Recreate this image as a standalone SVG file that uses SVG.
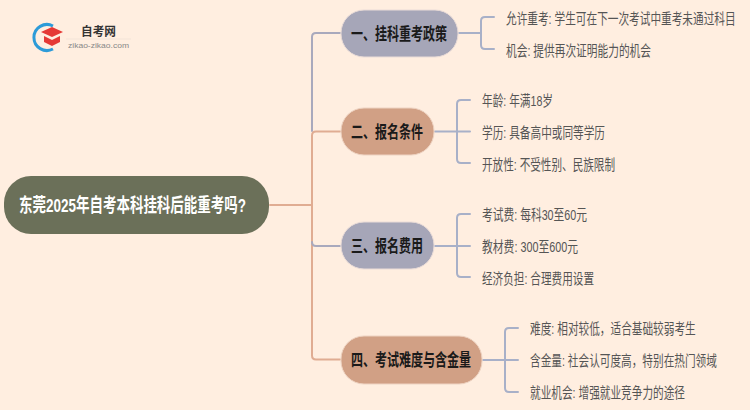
<svg xmlns="http://www.w3.org/2000/svg" width="750" height="410" viewBox="0 0 750 410">
<style>
text{font-family:"Liberation Sans","Noto Sans CJK SC",sans-serif}
.c{fill:none;stroke-width:2;stroke-linecap:round}
.p{stroke:#e0ac92}.b{stroke:#a9a9bd}.lb{stroke:#a8b0c8}
.h{font-size:17px;font-weight:700;fill:#1a1a1a}
.t{font-size:15px;fill:#555}
.n1{fill:#a6a6b8;stroke:#eadcd8;stroke-width:1}
.n2{fill:#d1a085;stroke:#eed3c2;stroke-width:1}
</style>
<rect width="750" height="410" fill="#ffeee0"/>
<g id="logo">
<path d="M53 26A13 13 0 1 0 53 49" fill="none" stroke="#2d9bd8" stroke-width="3"/>
<path d="M41 32L52 27L63 32L52 37Z" fill="#e53935"/>
<path d="M44 36L52 40L60 36V42L52 46L44 42Z" fill="#e53935"/>
<path d="M66 39H131" stroke="#f3e4d8" stroke-width="1"/>
<text x="81" y="36" font-size="12" font-weight="700" fill="#333" textLength="35" lengthAdjust="spacingAndGlyphs">自考网</text>
<text x="68" y="48" font-size="8" fill="#888" textLength="61" lengthAdjust="spacingAndGlyphs">zikao-zikao.com</text>
</g>
<g id="connectors">
<path class="c p" d="M270 205H312"/>
<path class="c b" d="M340 33H316Q312 33 312 37V131"/>
<path class="c p" d="M340 131.500H316Q312 131.500 312 135.500V355.500Q312 359.500 316 359.500H340"/>
<path class="c b" d="M312 242Q312 246 316 246H340"/>
<path class="c lb" d="M459 33H481M494 17H485Q481 17 481 21V45Q481 49 485 49H494"/>
<path class="c lb" d="M435 131.500H457M470 100H461Q457 100 457 104V159Q457 163 461 163H470M457 131.500H470"/>
<path class="c lb" d="M435 246H457M470 214H461Q457 214 457 218V273Q457 277 461 277H470M457 246H470"/>
<path class="c lb" d="M483 360H505M518 328H509Q505 328 505 332V388Q505 392 509 392H518M505 360H518"/>
</g>
<g id="root"><rect x="4" y="176" width="265" height="58" rx="27" fill="#6b7059"/><text x="19" y="212" font-size="19" font-weight="700" fill="#fff" textLength="227" lengthAdjust="spacingAndGlyphs">东莞2025年自考本科挂科后能重考吗?</text></g>
<g id="n1"><rect class="n1" x="341" y="10" width="117" height="47" rx="23"/><text class="h" x="351" y="39.500" textLength="96" lengthAdjust="spacingAndGlyphs">一、挂科重考政策</text></g>
<g id="n2"><rect class="n2" x="341" y="108" width="93" height="47" rx="23"/><text class="h" x="351" y="137.500" textLength="72" lengthAdjust="spacingAndGlyphs">二、报名条件</text></g>
<g id="n3"><rect class="n1" x="341" y="222" width="93" height="47" rx="23"/><text class="h" x="351" y="251.500" textLength="72" lengthAdjust="spacingAndGlyphs">三、报名费用</text></g>
<g id="n4"><rect class="n2" x="341" y="336" width="141" height="48" rx="23"/><text class="h" x="351" y="365.500" textLength="120" lengthAdjust="spacingAndGlyphs">四、考试难度与含金量</text></g>
<g id="leaves1"><text class="t" transform="translate(506 23.500) scale(.711 1)">允许重考: 学生可在下一次考试中重考未通过科目</text><text class="t" x="506" y="55.500" textLength="145" lengthAdjust="spacingAndGlyphs">机会: 提供再次证明能力的机会</text></g>
<g id="leaves2"><text class="t" x="482" y="105.500" textLength="71" lengthAdjust="spacingAndGlyphs">年龄: 年满18岁</text><text class="t" x="482" y="137.500" textLength="123" lengthAdjust="spacingAndGlyphs">学历: 具备高中或同等学历</text><text class="t" x="482" y="169.500" textLength="133" lengthAdjust="spacingAndGlyphs">开放性: 不受性别、民族限制</text></g>
<g id="leaves3"><text class="t" x="482" y="219.500" textLength="105" lengthAdjust="spacingAndGlyphs">考试费: 每科30至60元</text><text class="t" x="482" y="251.500" textLength="96" lengthAdjust="spacingAndGlyphs">教材费: 300至600元</text><text class="t" x="482" y="283.500" textLength="112" lengthAdjust="spacingAndGlyphs">经济负担: 合理费用设置</text></g>
<g id="leaves4"><text class="t" transform="translate(530 333.500) scale(.711 1)">难度: 相对较低，适合基础较弱考生</text><text class="t" transform="translate(530 365.500) scale(.71 1)">含金量: 社会认可度高，特别在热门领域</text><text class="t" x="530" y="397.500" textLength="155" lengthAdjust="spacingAndGlyphs">就业机会: 增强就业竞争力的途径</text></g>
</svg>
